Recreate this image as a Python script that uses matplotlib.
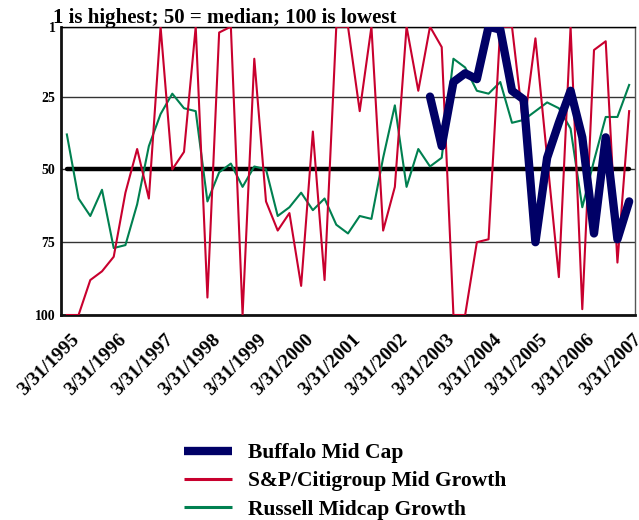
import numpy as np
import matplotlib
matplotlib.use('Agg')
import matplotlib.pyplot as plt
import matplotlib.transforms as mtransforms

# квартальные ранги (1 = лучший, 100 = худший), 3/31/1995 .. 3/31/2007
tick_labels = ["3/31/1995", "3/31/1996", "3/31/1997", "3/31/1998", "3/31/1999",
               "3/31/2000", "3/31/2001", "3/31/2002", "3/31/2003", "3/31/2004",
               "3/31/2005", "3/31/2006", "3/31/2007"]

russell = [38, 60, 66, 57, 77, 76, 62, 42, 31, 24,
           29, 30, 61, 51, 48, 56, 49, 50, 66, 63,
           58, 64, 60, 69, 72, 66, 67, 46, 28, 56,
           43, 49, 46, 12, 15, 23, 24, 20, 34, 33,
           30, 27, 29, 36, 63, 47, 32, 32, 21]

sp_citi = [100, 100, 88, 85, 80, 58, 43, 60, 1, 50,
           44, 1, 94, 3, 1, 100, 12, 61, 71, 65,
           90, 37, 88, 1, 1, 30, 1, 71, 56, 1,
           23, 1, 8, 100, 100, 75, 74, 1, 1, 36,
           5, 46, 87, 1, 98, 9, 6, 82, 30]

buffalo = [None] * 31 + [25, 42, 20, 17, 19, 1, 2, 23, 26,
                         75, 46, 34, 23, 39, 72, 39, 74, 61]

MEDIAN = 50

plt.rcParams['font.family'] = ['Liberation Serif', 'DejaVu Serif']
plt.rcParams['font.weight'] = 'bold'

x = np.arange(len(russell))
fig = plt.figure(figsize=(6.39, 5.20), dpi=100)
ax = fig.add_axes([61 / 639, 1 - 315 / 520, 574 / 639, (315 - 26.7) / 520])

ax.hlines(MEDIAN, x[0], x[-1], color='black', linewidth=3.2, capstyle='round', zorder=2)
ax.plot(x, russell, color='#008050', linewidth=1.5, label='Russell Midcap Growth', zorder=3)
ax.plot(x, sp_citi, color='#C8002E', linewidth=1.5, label='S&P/Citigroup Mid Growth', zorder=4)
ax.plot(x, np.array(buffalo, dtype=float), color='#000066', linewidth=6,
        solid_joinstyle='round', solid_capstyle='round', label='Buffalo Mid Cap', zorder=5)

ax.set_yticks([1, 25, 50, 75, 100])
ax.set_ylim(100, 1)
ax.set_xlim(-0.5, len(x) - 0.5)
ax.yaxis.grid(True, color='#333333', linewidth=1)
ax.set_axisbelow(True)
ax.tick_params(axis='x', length=0, pad=16)
ax.tick_params(axis='y', length=0, pad=4, labelsize=10)

ax.set_xticks(x[::4])
ax.set_xticklabels(tick_labels, rotation=45, ha='right', va='center',
                   rotation_mode='anchor', fontsize=14)
# подписи дат сдвинуты вправо, как в оригинале (после tick_params!)
offset = mtransforms.ScaledTranslation(10 / 100, 0, fig.dpi_scale_trans)
for lbl in ax.get_xticklabels():
    lbl.set_transform(lbl.get_transform() + offset)

for side in ['left', 'bottom']:
    ax.spines[side].set_linewidth(2)
    ax.spines[side].set_color('#111111')
ax.spines['top'].set_linewidth(1)
ax.spines['right'].set_linewidth(1)
ax.spines['right'].set_color('#555555')

fig.text(53 / 639, 1 - 23 / 520, '1 is highest; 50 = median; 100 is lowest',
         fontsize=15, fontweight='bold', va='baseline', ha='left')

handles, labels = ax.get_legend_handles_labels()
order = [2, 1, 0]
leg = fig.legend([handles[i] for i in order], [labels[i] for i in order],
                 loc='upper left', bbox_to_anchor=(184 / 639, 1 - 443 / 520),
                 frameon=False, fontsize=15.5, handlelength=2.25, handletextpad=0.7,
                 labelspacing=0.38, borderpad=0, borderaxespad=0)
for h, w in zip(leg.legend_handles, [6, 2.2, 2.2]):
    h.set_linewidth(w)
    h.set_solid_capstyle('butt')

fig.savefig('out.png', dpi=100)
